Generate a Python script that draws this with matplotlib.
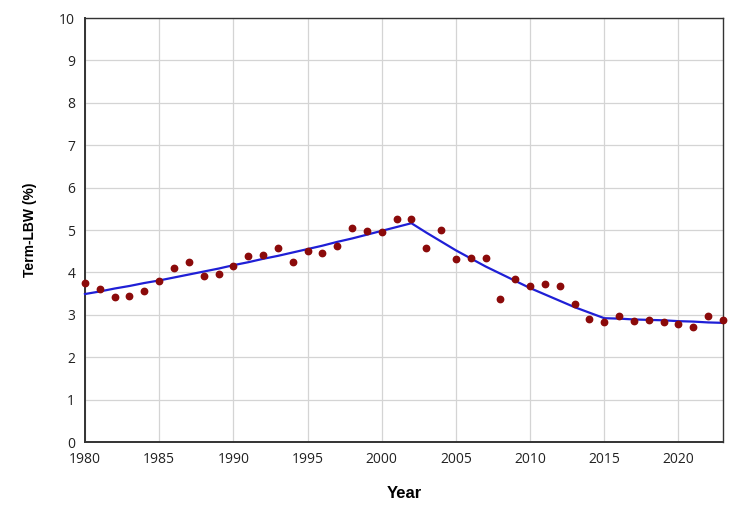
import numpy as np
import matplotlib as mpl
mpl.use('Agg')
import matplotlib.pyplot as plt

# observed term-LBW rates (%)
years = list(range(1980, 2024))
observed = [3.74, 3.62, 3.41, 3.44, 3.55, 3.80, 4.11, 4.24, 3.91, 3.96,
            4.15, 4.39, 4.42, 4.58, 4.24, 4.50, 4.46, 4.62, 5.05, 4.98,
            4.95, 5.26, 5.26, 4.58, 5.00, 4.32, 4.34, 4.34, 3.37, 3.84,
            3.68, 3.73, 3.68, 3.25, 2.90, 2.83, 2.97, 2.85, 2.88, 2.83,
            2.78, 2.71, 2.97, 2.88]

# joinpoint model fit
modeled = [3.49, 3.55, 3.62, 3.68, 3.75, 3.81, 3.88, 3.95, 4.02, 4.09,
           4.17, 4.24, 4.32, 4.39, 4.47, 4.55, 4.63, 4.72, 4.80, 4.89,
           4.98, 5.07, 5.16, 4.94, 4.73, 4.52, 4.33, 4.14, 3.97, 3.80,
           3.63, 3.48, 3.33, 3.18, 3.05, 2.92, 2.91, 2.89, 2.88, 2.87,
           2.85, 2.84, 2.82, 2.81]

xticks = [1980, 1985, 1990, 1995, 2000, 2005, 2010, 2015, 2020]
yticks = list(range(0, 11))

fig = plt.figure(figsize=(7.5, 5.16), dpi=100)
ax = fig.add_axes([0.1133, 0.1434, 0.8507, 0.8217])

ax.plot(years, modeled, color='#1f1fd6', linewidth=1.6, zorder=3, clip_on=False)
ax.plot(years, observed, linestyle='none', marker='o', markersize=4.6,
        color='#8b0a0a', zorder=4, clip_on=False)

ax.set_xlim(1980, 2023)
ax.set_ylim(0, 10)
ax.set_xticks(xticks)
ax.set_yticks(yticks)
ax.grid(True, color='#d4d4d4', linewidth=0.9)
ax.set_axisbelow(True)
ax.tick_params(axis='both', which='both', length=0, labelsize=10, pad=7, colors='#222222')
for lab in ax.get_xticklabels() + ax.get_yticklabels():
    lab.set_family('Open Sans')
for s in ax.spines.values():
    s.set_color('#333333')
    s.set_linewidth(1.0)
ax.spines['left'].set_linewidth(1.4)
ax.spines['bottom'].set_linewidth(1.4)

ax.set_xlabel('Year', fontsize=12, fontweight='bold', family='Liberation Sans', labelpad=14)
ax.set_ylabel('Term-LBW (%)', fontsize=10, fontweight='bold', family='Liberation Sans', labelpad=16)

fig.savefig('out.png', dpi=100)
